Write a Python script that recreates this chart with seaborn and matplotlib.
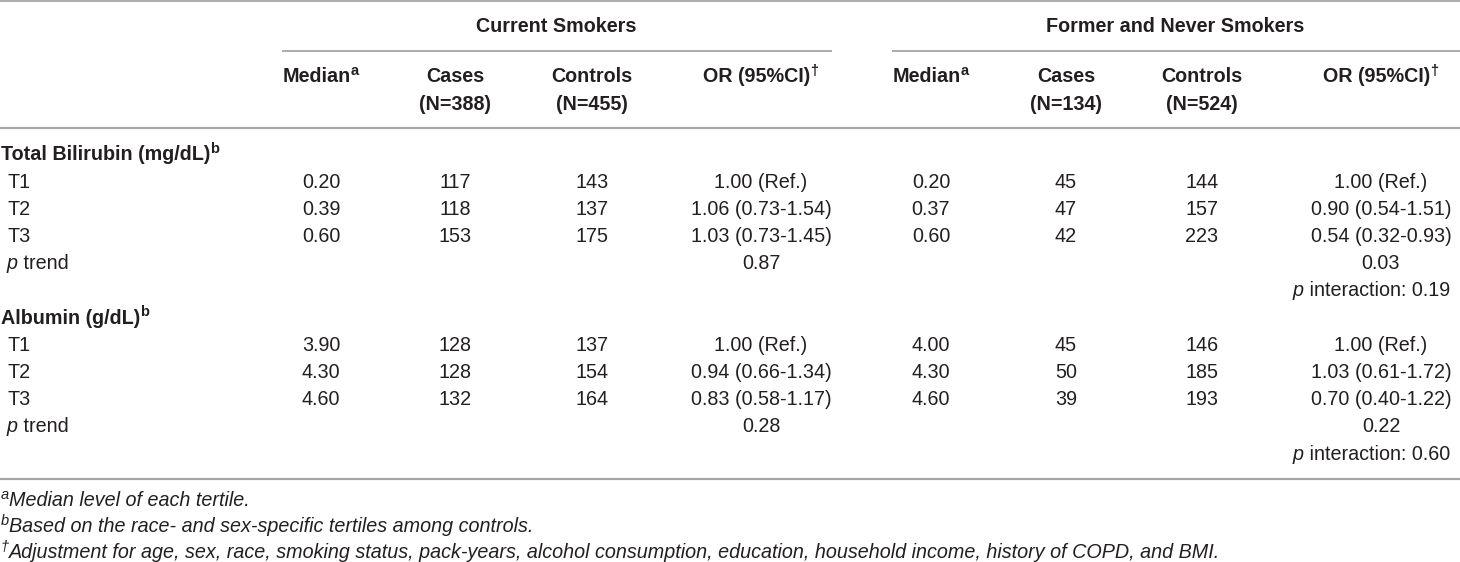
import matplotlib
matplotlib.use("Agg")
import matplotlib.pyplot as plt
import seaborn as sns

sns.set_theme(style="white")
plt.rcParams["font.family"] = ["Liberation Sans", "DejaVu Sans"]

# ---------------- data ----------------
group_titles = ["Current Smokers", "Former and Never Smokers"]
col_headers = ["Median", "Cases", "Controls", "OR (95%CI)"]
n_cases = [388, 134]
n_controls = [455, 524]
tertiles = ["T1", "T2", "T3"]
section_titles = ["Total Bilirubin (mg/dL)", "Albumin (g/dL)"]

# Total bilirubin - current smokers
tb_cur_median = [0.20, 0.39, 0.60]
tb_cur_cases = [117, 118, 153]
tb_cur_controls = [143, 137, 175]
tb_cur_or = [1.00, 1.06, 1.03]
tb_cur_lo = [None, 0.73, 0.73]
tb_cur_hi = [None, 1.54, 1.45]
tb_cur_ptrend = 0.87
# Total bilirubin - former and never smokers
tb_fn_median = [0.20, 0.37, 0.60]
tb_fn_cases = [45, 47, 42]
tb_fn_controls = [144, 157, 223]
tb_fn_or = [1.00, 0.90, 0.54]
tb_fn_lo = [None, 0.54, 0.32]
tb_fn_hi = [None, 1.51, 0.93]
tb_fn_ptrend = 0.03
tb_p_interaction = 0.19

# Albumin - current smokers
alb_cur_median = [3.90, 4.30, 4.60]
alb_cur_cases = [128, 128, 132]
alb_cur_controls = [137, 154, 164]
alb_cur_or = [1.00, 0.94, 0.83]
alb_cur_lo = [None, 0.66, 0.58]
alb_cur_hi = [None, 1.34, 1.17]
alb_cur_ptrend = 0.28
# Albumin - former and never smokers
alb_fn_median = [4.00, 4.30, 4.60]
alb_fn_cases = [45, 50, 39]
alb_fn_controls = [146, 185, 193]
alb_fn_or = [1.00, 1.03, 0.70]
alb_fn_lo = [None, 0.61, 0.40]
alb_fn_hi = [None, 1.72, 1.22]
alb_fn_ptrend = 0.22
alb_p_interaction = 0.60

footnotes = [
    ("a", "Median level of each tertile."),
    ("b", "Based on the race- and sex-specific tertiles among controls."),
    ("\u2020", "Adjustment for age, sex, race, smoking status, pack-years, alcohol consumption, "
               "education, household income, history of COPD, and BMI."),
]

# ---------------- layout ----------------
W, H = 1460, 562
fig = plt.figure(figsize=(W / 100, H / 100), dpi=100)
ax = fig.add_axes([0, 0, 1, 1])
ax.set_xlim(0, W)
ax.set_ylim(H, 0)
ax.axis("off")

TXT = "#231f20"
LINE = "#a6a6a6"
FS = 14.2
SUP = 10.5

col_x = [[321, 455, 592, 761], [931, 1066, 1202, 1381]]
group_x = [556, 1175]
group_line = [(282, 832), (892, 1460)]


def put(x, y, s, sup=None, ha="center", weight="normal", style="normal", supstyle=None):
    shift = 0
    if sup is not None and ha == "center":
        shift = -4
    t = ax.text(x + shift, y, s, ha=ha, va="center", fontsize=FS, color=TXT,
                fontweight=weight, fontstyle=style)
    if sup is not None:
        ax.annotate(sup, xy=(1.0, 1.0), xycoords=t, xytext=(-0.4, 2.4),
                    textcoords="offset points", ha="left", va="top",
                    fontsize=SUP, color=TXT, fontweight=weight,
                    fontstyle=supstyle if supstyle else style)
    return t


def hline(y, x0, x1, lw=1.3):
    ax.plot([x0, x1], [y, y], color=LINE, lw=lw, solid_capstyle="butt")


# rules
hline(1, 0, W, lw=1.3)
for (a, b) in group_line:
    hline(51, a, b, lw=1.3)
hline(128, 0, W, lw=1.6)
hline(479, 0, W, lw=1.6)

# header
for g in range(2):
    put(group_x[g], 27, group_titles[g], weight="bold")
    cx = col_x[g]
    put(cx[0], 77, col_headers[0], sup="a", weight="bold")
    put(cx[1], 77, col_headers[1], weight="bold")
    put(cx[1], 104, f"(N={n_cases[g]})", weight="bold")
    put(cx[2], 77, col_headers[2], weight="bold")
    put(cx[2], 104, f"(N={n_controls[g]})", weight="bold")
    put(cx[3], 77, col_headers[3], sup="\u2020", weight="bold")


def or_text(o, lo, hi):
    if lo is None:
        return f"{o:.2f} (Ref.)"
    return f"{o:.2f} ({lo:.2f}-{hi:.2f})"


sections = [
    (section_titles[0],
     [(tb_cur_median, tb_cur_cases, tb_cur_controls, tb_cur_or, tb_cur_lo, tb_cur_hi, tb_cur_ptrend),
      (tb_fn_median, tb_fn_cases, tb_fn_controls, tb_fn_or, tb_fn_lo, tb_fn_hi, tb_fn_ptrend)],
     tb_p_interaction),
    (section_titles[1],
     [(alb_cur_median, alb_cur_cases, alb_cur_controls, alb_cur_or, alb_cur_lo, alb_cur_hi, alb_cur_ptrend),
      (alb_fn_median, alb_fn_cases, alb_fn_controls, alb_fn_or, alb_fn_lo, alb_fn_hi, alb_fn_ptrend)],
     alb_p_interaction),
]

ROW = 27.2
y0 = 155
for si, (title, groups, pint) in enumerate(sections):
    ys = y0 + si * 6 * ROW
    put(1, ys, title, sup="b", ha="left", weight="bold")
    for i, lab in enumerate(tertiles):
        y = ys + (i + 1) * ROW
        put(7, y, lab, ha="left")
        for g, (med, cas, con, o, lo, hi, pt) in enumerate(groups):
            cx = col_x[g]
            put(cx[0], y, f"{med[i]:.2f}")
            put(cx[1], y, f"{cas[i]}")
            put(cx[2], y, f"{con[i]}")
            put(cx[3], y, or_text(o[i], lo[i], hi[i]))
    yp = ys + 4 * ROW
    t = ax.text(7, yp, "p", ha="left", va="center", fontsize=FS, color=TXT, fontstyle="italic")
    ax.annotate(" trend", xy=(1.0, 0.5), xycoords=t, va="center", ha="left",
                fontsize=FS, color=TXT)
    for g, grp in enumerate(groups):
        put(col_x[g][3], yp, f"{grp[6]:.2f}")
    yi = ys + 5 * ROW
    t = ax.text(1450, yi, f" interaction: {pint:.2f}", ha="right", va="center",
                fontsize=FS, color=TXT)
    ax.annotate("p", xy=(0.0, 0.5), xycoords=t, va="center", ha="right",
                fontsize=FS, color=TXT, fontstyle="italic")

# footnotes
for k, (mark, txt) in enumerate(footnotes):
    y = 500 + k * 26
    t = ax.text(9, y, txt, ha="left", va="center", fontsize=FS, color=TXT,
                fontstyle="italic")
    ax.annotate(mark, xy=(0.0, 1.0), xycoords=t, xytext=(-0.3, 1.5),
                textcoords="offset points", ha="right", va="top",
                fontsize=SUP, color=TXT, fontstyle="italic")

fig.savefig("out.png", dpi=100, facecolor="white")
